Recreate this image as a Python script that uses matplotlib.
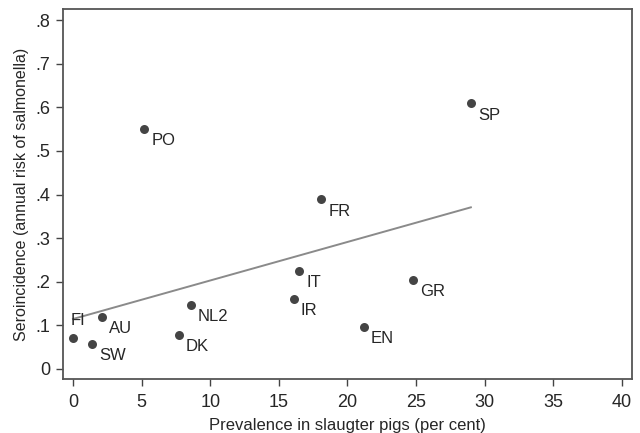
import numpy as np
import matplotlib
import matplotlib.pyplot as plt

matplotlib.use('Agg')

# Country codes with prevalence in slaughter pigs (%) and seroincidence
countries   = ["FI", "SW", "AU", "DK", "NL2", "PO", "IR", "IT", "FR", "EN", "GR", "SP"]
prevalence  = [0.0, 1.4, 2.1, 7.7, 8.6, 5.2, 16.1, 16.5, 18.1, 21.2, 24.8, 29.0]
seroinc     = [0.071, 0.057, 0.119, 0.079, 0.147, 0.550, 0.160, 0.224, 0.389, 0.096, 0.205, 0.609]
# label placement: most sit below-right of the marker, FI sits above
label_above = ["FI"]

x_ticks = [0, 5, 10, 15, 20, 25, 30, 35, 40]
y_ticks = [0, 0.1, 0.2, 0.3, 0.4, 0.5, 0.6, 0.7, 0.8]
y_tick_labels = ["0", ".1", ".2", ".3", ".4", ".5", ".6", ".7", ".8"]

TEXT_COLOR  = "#262626"
POINT_COLOR = "#444444"
LINE_COLOR  = "#8a8a8a"

plt.rcParams['font.family'] = ['Liberation Sans', 'DejaVu Sans']

fig = plt.figure(figsize=(6.4, 4.33), dpi=100, facecolor="white")
ax = fig.add_axes([0.0984, 0.1247, 0.889, 0.854])

# Linear fit across the plotted range
slope, intercept = np.polyfit(prevalence, seroinc, 1)
xs = np.array([min(prevalence), max(prevalence)])
ax.plot(xs, intercept + slope * xs, color=LINE_COLOR, linewidth=1.4, zorder=2)

ax.scatter(prevalence, seroinc, s=42, color=POINT_COLOR, zorder=3, linewidths=0)

for name, px, py in zip(countries, prevalence, seroinc):
    if name in label_above:
        ax.annotate(name, (px, py), xytext=(-2, 7), textcoords="offset points",
                    ha="left", va="bottom", fontsize=12, color=TEXT_COLOR)
    else:
        ax.annotate(name, (px, py), xytext=(5, -3), textcoords="offset points",
                    ha="left", va="top", fontsize=12, color=TEXT_COLOR)

ax.set_xlim(-0.73, 40.74)
ax.set_ylim(-0.023, 0.825)
ax.set_xticks(x_ticks)
ax.set_yticks(y_ticks)
ax.set_yticklabels(y_tick_labels)

ax.set_xlabel("Prevalence in slaugter pigs (per cent)", fontsize=12, color=TEXT_COLOR, labelpad=5)
ax.set_ylabel("Seroincidence (annual risk of salmonella)", fontsize=11.5, color=TEXT_COLOR, labelpad=5)

ax.tick_params(direction="out", length=5, width=1, colors="#444444",
               labelsize=13, labelcolor=TEXT_COLOR)
ax.tick_params(axis="x", pad=6)
ax.tick_params(axis="y", pad=4)
for side in ["left", "bottom", "top", "right"]:
    ax.spines[side].set_color("#555555")
    ax.spines[side].set_linewidth(1.3)

fig.savefig("out.png", dpi=100, facecolor="white")
plt.close(fig)
